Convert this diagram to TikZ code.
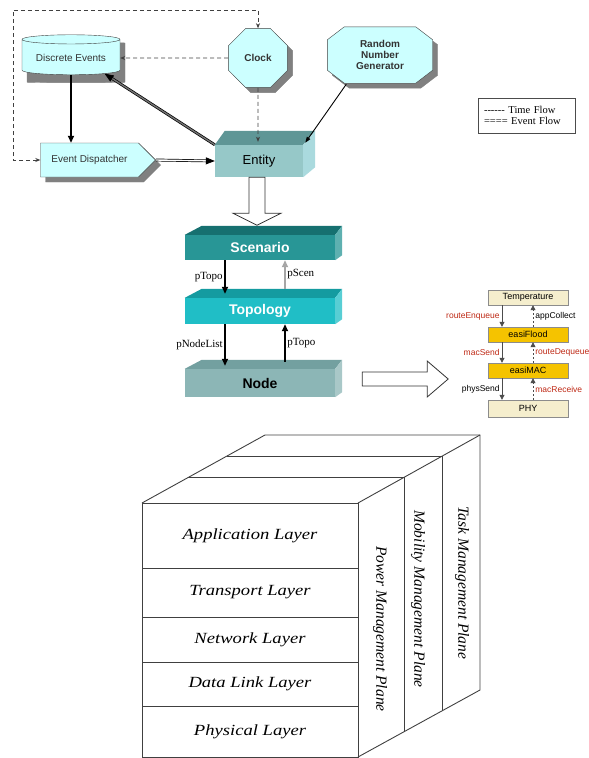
\documentclass[tikz,border=0pt]{standalone}
\usepackage{fontspec}
\setmainfont{Liberation Serif}
\setsansfont{Liberation Sans}
\newfontfamily\legendfont{Liberation Serif}[Ligatures=TeXOff]
\usetikzlibrary{arrows.meta,calc,shapes.geometric,shapes.symbols}

\definecolor{paleCyan}{RGB}{204,255,255}
\definecolor{shadowGray}{RGB}{128,128,128}
\definecolor{entFront}{RGB}{150,200,200}
\definecolor{entTop}{RGB}{95,150,150}
\definecolor{entSide}{RGB}{170,218,222}
\definecolor{scenFront}{RGB}{40,150,150}
\definecolor{scenTop}{RGB}{22,112,112}
\definecolor{topoFront}{RGB}{32,190,198}
\definecolor{topoTop}{RGB}{20,155,160}
\definecolor{nodeFront}{RGB}{140,182,182}
\definecolor{nodeTop}{RGB}{115,160,160}
\definecolor{tempFill}{RGB}{245,238,205}
\definecolor{easiFill}{RGB}{245,195,0}
\definecolor{callRed}{RGB}{190,40,20}

% octagon round the random number generator
\newcommand\rngoutline[1]{($(rng.north west)+(17+#1,#1)$) -- ($(rng.north east)+(-17+#1,#1)$) -- ($(rng.north east)+(#1,13+#1)$)
  -- ($(rng.south east)+(#1,-13+#1)$) -- ($(rng.south east)+(-17+#1,#1)$) -- ($(rng.south west)+(17+#1,#1)$)
  -- ($(rng.south west)+(#1,-13+#1)$) -- ($(rng.north west)+(#1,13+#1)$) -- cycle}

\begin{document}
\begin{tikzpicture}[x=1pt, y=-1pt, >={Stealth[length=5pt,width=4pt]},
  sim/.style={draw=black!75, fill=paleCyan, text=black!80, font=\sffamily\fontsize{10}{11}\selectfont},
  backdrop/.style={fill=shadowGray, draw=shadowGray},
  simbold/.style={font=\sffamily\bfseries\fontsize{10}{11}\selectfont, text=black!80, align=center},
  evshape/.style={cylinder, shape border rotate=90, aspect=0.12, minimum width=98pt, minimum height=40pt},
  clockshape/.style={regular polygon, regular polygon sides=8, minimum size=64pt, inner sep=0pt},
  dispshape/.style={signal, signal to=east, minimum width=115pt, minimum height=34pt, inner sep=0pt},
  timeflow/.style={draw=black!75, line width=0.7pt, dash pattern=on 4pt off 3pt},
  eventflow/.style={double=white, double distance=1.4pt, line width=0.7pt, -{Triangle[length=9pt,width=7pt]}},
  pointer/.style={line width=1.6pt, -{Triangle[length=7pt,width=6pt]}},
  hollow/.style={draw=black!80, fill=white, line width=0.8pt},
  slab/.style={minimum width=150pt, minimum height=#1, inner sep=0pt, font=\sffamily\bfseries\fontsize{14}{16}\selectfont},
  ptr/.style={font=\fontsize{11}{12}\selectfont, inner sep=1.5pt},
  module/.style={draw=black!45, minimum width=80pt, minimum height=15pt, inner sep=0pt, font=\sffamily\fontsize{9}{10}\selectfont},
  call/.style={draw=black!70, line width=0.8pt, -{Triangle[length=5pt,width=5pt]}},
  fn/.style={font=\sffamily\fontsize{8.5}{9}\selectfont, inner sep=2pt},
  stackline/.style={draw=black!75, line width=0.9pt},
  layer/.style={font=\itshape\fontsize{15.5}{18}\selectfont, xscale=1.2},
  plane/.style={font=\itshape\fontsize{15.5}{18}\selectfont, rotate=-90}]
  \useasboundingbox (0,0) rectangle (589,758);

  % Simulation core, each block over its shadow
  \node[evshape, backdrop] (eventsshadow) at (76,63) {};
  \node[sim, evshape] (events) at (71,58) {Discrete Events};
  \node[clockshape, backdrop] (clockshadow) at (263,63) {};
  \node[sim, clockshape, simbold] (clock) at (258,58) {Clock};
  \node[minimum width=105pt, minimum height=56pt] (rng) at (380,55) {};
  \filldraw[backdrop] \rngoutline{5};
  \filldraw[sim] \rngoutline{0};
  \node[simbold] (rngtext) at (rng) {Random\\Number\\Generator};
  \node[dispshape, backdrop] (dispatchshadow) at (94.5,165) {};
  \node[sim, dispshape] (dispatch) at (89.5,160) {Event Dispatcher};

  % Entity block with its top and side faces
  \node[minimum width=88pt, minimum height=32pt, fill=entFront, font=\sffamily\fontsize{13}{14}\selectfont] (entity) at (259,161) {Entity};
  \fill[entTop] (entity.north west) -- ++(10,-14) -- ($(entity.north east)+(12,-14)$) -- (entity.north east) -- cycle;
  \fill[entSide] (entity.north east) -- ++(12,-14) -- ($(entity.south east)+(12,-10)$) -- (entity.south east) -- cycle;

  % Time and event flows
  \coordinate (loop) at (13,10);
  \draw[timeflow, <->] (dispatch.west) -| (loop) -| (clock.north);
  \draw[timeflow, ->] (clock.west) -- (events.east);
  \draw[timeflow, ->] (clock.south) -- ($(entity.north)+(-1,-3)$);
  \draw[pointer] (events.south) -- (events.south |- dispatch.north);
  \draw[eventflow] (dispatch.east) -- (entity.west);
  \draw[eventflow, double=black!55] (entity.north west) -- (events.-25);
  \draw[line width=0.9pt, -{Triangle[length=6pt,width=4pt]}] ($(rng.south west)+(19,1)$) -- ($(entity.north east)+(2,-2)$);

  % Legend
  \node[draw=black!70, text width=85pt, align=left, inner xsep=6pt, minimum height=35pt,
    font=\legendfont\fontsize{10.5}{11.5}\selectfont] (legend) at (526.5,115.5) {------ Time Flow\\==== Event Flow};

  % Scenario / Topology / Node
  \node[slab=25pt, fill=scenFront, text=white] (scenario) at (260,247.5) {Scenario};
  \node[slab=26pt, fill=topoFront, text=white] (topology) at (260,311) {Topology};
  \node[slab=28pt, fill=nodeFront] (simnode) at (260,383) {Node};
  \foreach \slabname/\topcol/\sidecol in {scenario/scenTop/scenFront, topology/topoTop/topoFront, simnode/nodeTop/nodeFront} {
    \fill[\topcol] (\slabname.north west) -- ++(17,-9) -- ($(\slabname.north east)+(7,-9)$) -- (\slabname.north east) -- cycle;
    \fill[\sidecol!75!white] (\slabname.north east) -- ++(7,-9) -- ($(\slabname.south east)+(7,-5)$) -- (\slabname.south east) -- cycle;
  }
  \coordinate (entityout) at ($(entity.south)+(-2,0)$);
  \draw[hollow] (entityout) ++(-8,0) -- ++(0,36) -- ++(-16,0) -- ++(24,12) -- ++(24,-12) -- ++(-16,0) -- ++(0,-36) -- cycle;

  \draw[pointer] ($(scenario.south)+(-35,0)$) -- ($(topology.north)+(-35,-4)$) node[midway, left, ptr] {pTopo};
  \draw[pointer, draw=gray!70] ($(topology.north)+(25,-9)$) -- ($(scenario.south)+(25,0)$) node[midway, right, ptr, text=black] {pScen};
  \draw[pointer] ($(topology.south)+(-35,0)$) -- ($(simnode.north)+(-35,-3)$) node[midway, left, ptr] {pNodeList};
  \draw[pointer] ($(simnode.north)+(25,-7)$) -- ($(topology.south)+(25,0)$) node[midway, right, ptr] {pTopo};

  \coordinate (nodeout) at ($(simnode.east)+(27,-4)$);
  \draw[hollow] (nodeout) ++(0,-7) -- ++(65,0) -- ++(0,-11) -- ++(21,18) -- ++(-21,18) -- ++(0,-11) -- ++(-65,0) -- cycle;

  % Module stack
  \node[module, fill=tempFill] (temp) at (528,297.5) {Temperature};
  \node[module, fill=easiFill] (flood) at (528,334.5) {easiFlood};
  \node[module, fill=easiFill] (mac) at (528,370.5) {easiMAC};
  \node[module, fill=tempFill, minimum height=17pt] (phy) at (528,408.5) {PHY};
  \draw[call] ($(temp.south)+(-26,0)$) -- ($(flood.north)+(-26,0)$) node[midway, left, fn, text=callRed] {routeEnqueue};
  \draw[call] ($(flood.south)+(-26,0)$) -- ($(mac.north)+(-26,0)$) node[midway, left, fn, text=callRed] {macSend};
  \draw[call] ($(mac.south)+(-26,0)$) -- ($(phy.north)+(-26,0)$) node[midway, left, fn] {physSend};
  \draw[call, dash pattern=on 2pt off 2pt] ($(flood.north)+(5,0)$) -- ($(temp.south)+(5,0)$) node[midway, right, fn] {appCollect};
  \draw[call, dash pattern=on 2pt off 2pt] ($(mac.north)+(5,0)$) -- ($(flood.south)+(5,0)$) node[midway, right, fn, text=callRed] {routeDequeue};
  \draw[call, dash pattern=on 2pt off 2pt] ($(phy.north)+(5,0)$) -- ($(mac.south)+(5,0)$) node[midway, right, fn, text=callRed] {macReceive};

  % Protocol stack cube
  \foreach \ya/\yb/\name [count=\i] in {503/568/Application Layer, 568/617/Transport Layer, 617/662/Network Layer, 662/706/Data Link Layer, 706/757/Physical Layer} {
    \draw[stackline] (142,\ya) rectangle (358,\yb);
    \node[layer] (layer\i) at (250,{(\ya+\yb)/2}) {\name};
  }
  \draw[stackline] (142,503) -- (265,435) -- (480,435) -- (480,690) -- (358,757);
  \draw[stackline] (358,503) -- (480,435);
  \draw[stackline] (188,477) -- (404,477) -- (404,732);
  \draw[stackline] (227,456) -- (442,456) -- (442,711);
  \node[plane] (power) at (380,629) {Power Management Plane};
  \node[plane] (mobility) at (418,599) {Mobility Management Plane};
  \node[plane] (task) at (462,583) {Task Management Plane};
\end{tikzpicture}
\end{document}
